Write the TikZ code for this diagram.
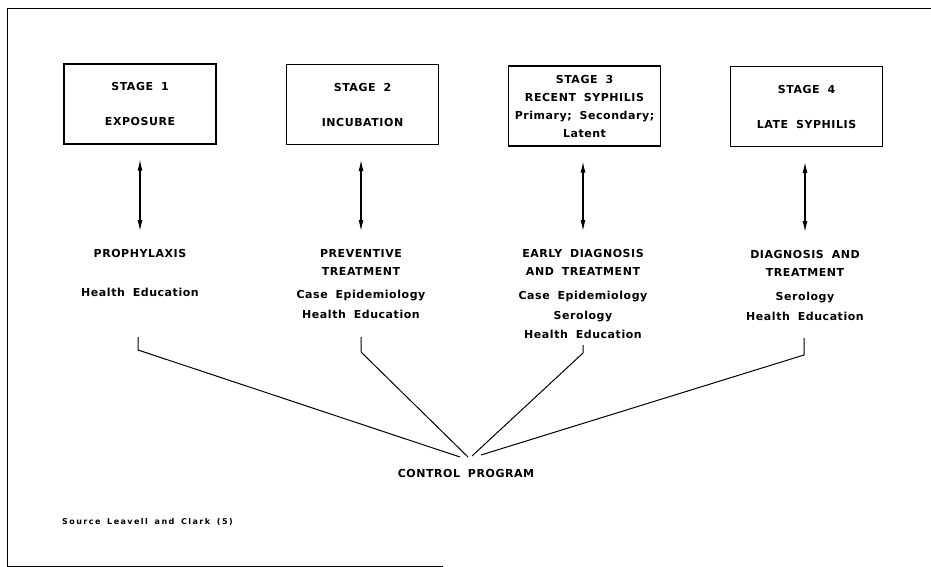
\documentclass[tikz,border=0pt]{standalone}
\usepackage{fontspec}
\setmainfont{DejaVu Sans}
\newfontfamily\figfont{DejaVu Sans}[LetterSpace=5,WordSpace=1.8]
\newfontfamily\srcfont{DejaVu Sans}[LetterSpace=18,WordSpace=1.6]
\usetikzlibrary{arrows.meta,positioning}

\begin{document}
\begin{tikzpicture}[x=1pt,y=-1pt,
  stagebox/.style={draw, line width=1.2pt, minimum width=152pt, minimum height=80pt,
    inner sep=0pt, align=center, font=\figfont\bfseries\fontsize{11}{18}\selectfont},
  heading/.style={inner sep=0pt, align=center, anchor=north,
    font=\figfont\bfseries\fontsize{11}{18}\selectfont},
  items/.style={inner sep=0pt, align=center, anchor=north,
    font=\figfont\bfseries\fontsize{11}{19.5}\selectfont},
  dblarrow/.style={arrows={Latex[length=11pt,width=5pt]-Latex[length=11pt,width=5pt]},
    line width=1.1pt, shorten <=15pt, shorten >=18pt},
  bracket/.style={line width=1pt}]
\useasboundingbox (0,0) rectangle (931,567);

% Frame
\draw[line width=1pt] (931,9) -- (7,9) -- (7,566) -- (443,566);

% Stages
\node[stagebox] (s1) at (140,104) {STAGE 1\\[17pt]EXPOSURE};
\node[stagebox] (s2) at (362.5,104.5) {STAGE 2\\[17pt]INCUBATION};
\node[stagebox] (s3) at (584.5,106) {STAGE 3\\RECENT SYPHILIS\\Primary; Secondary;\\Latent};
\node[stagebox] (s4) at (806.5,106.5) {STAGE 4\\[17pt]LATE SYPHILIS};

% Measures
\node[heading] (p1) at (140,249) {PROPHYLAXIS};
\node[heading] (p2) at (361,249) {PREVENTIVE\\TREATMENT};
\node[heading] (p3) at (583,249) {EARLY DIAGNOSIS\\AND TREATMENT};
\node[heading] (p4) at (805,250) {DIAGNOSIS AND\\TREATMENT};

\node[items] (m1) at (140,288) {Health Education};
\node[items] (m2) at (361,290) {Case Epidemiology\\Health Education};
\node[items] (m3) at (583,291) {Case Epidemiology\\Serology\\Health Education};
\node[items] (m4) at (805,292) {Serology\\Health Education};

% Stage <-> measure
\draw[dblarrow] (s1.south -| p1.north) -- (p1.north);
\draw[dblarrow] (s2.south -| p2.north) -- (p2.north);
\draw[dblarrow] (s3.south -| p3.north) -- (p3.north);
\draw[dblarrow] (s4.south -| p4.north) -- (p4.north);

% Control program
\node[heading, anchor=center] (ctrl) at (466,473) {CONTROL PROGRAM};
\coordinate (h1) at (460,457);
\coordinate (h2) at (468,457);
\coordinate (h3) at (472,456);
\coordinate (h4) at (481,455);

\coordinate (b1) at (138,337);
\coordinate (b2) at (361,337);
\coordinate (b3) at (583,345);
\coordinate (b4) at (804,338);
\draw[bracket] (b1) -- ++(0,13) -- (h1);
\draw[bracket] (b2) -- ++(0,15) -- (h2);
\draw[bracket] (b3) -- ++(0,8) -- (h3);
\draw[bracket] (b4) -- ++(0,17) -- (h4);

% Source
\node[inner sep=0pt, anchor=west, font=\srcfont\bfseries\fontsize{8}{10}\selectfont] (src) at (62,522)
  {Source Leavell and Clark (5)};
\end{tikzpicture}
\end{document}
